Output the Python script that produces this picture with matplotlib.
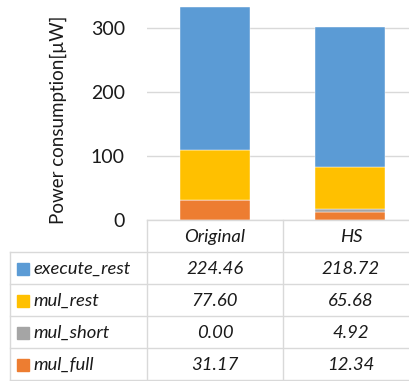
import matplotlib
matplotlib.use("Agg")
import matplotlib.pyplot as plt
from matplotlib.patches import Rectangle

plt.rcParams['font.family'] = ['Lato', 'DejaVu Sans']

categories = ["Original", "HS"]
series_names = ["execute_rest", "mul_rest", "mul_short", "mul_full"]
execute_rest = [224.46, 218.72]
mul_rest = [77.60, 65.68]
mul_short = [0.00, 4.92]
mul_full = [31.17, 12.34]
yticks = [0, 100, 200, 300]

colors = {"execute_rest": "#5B9BD5", "mul_rest": "#FFC000",
          "mul_short": "#A5A5A5", "mul_full": "#ED7D31"}
values = {"execute_rest": execute_rest, "mul_rest": mul_rest,
          "mul_short": mul_short, "mul_full": mul_full}

W, H = 409, 381
fig = plt.figure(figsize=(W / 100, H / 100), dpi=100)

# main plot axes
x0, ytop, ybase = 147, 0, 220
ax = fig.add_axes([x0 / W, (H - ybase) / H, 1 - x0 / W, (ybase - ytop) / H])
ax.set_xlim(-0.5, -0.5 + (W - x0) / 135.5)
ax.set_ylim(0, 220 / 0.64)
xs = list(range(len(categories)))
bottom = [0.0] * len(categories)
for name in ["mul_full", "mul_short", "mul_rest", "execute_rest"]:
    v = values[name]
    ax.bar(xs, v, width=0.515, bottom=bottom, color=colors[name],
           edgecolor="white", linewidth=0.3, zorder=3)
    bottom = [b + vv for b, vv in zip(bottom, v)]
ax.set_yticks(yticks)
ax.set_yticklabels([str(t) for t in yticks], fontsize=14, color="#1a1a1a")
ax.tick_params(axis="y", length=0, pad=16)
ax.set_xticks([])
ax.grid(axis="y", color="#D9D9D9", linewidth=1, zorder=0)
for s in ax.spines.values():
    s.set_visible(False)
ax.set_ylabel("Power consumption[\u00b5W]", fontsize=13.5, color="#1a1a1a")
ax.yaxis.set_label_coords(-80 / (W - x0), 100 / 220)

# table drawn in pixel coordinates
tax = fig.add_axes([0, 0, 1, 1])
tax.set_xlim(0, W)
tax.set_ylim(H, 0)
tax.axis("off")
lc = "#D9D9D9"
row_h = 32
col_edges = [10, 147, 283, 419]
hdr_top = 220
rows_top = 252
nrows = len(series_names)
tax.plot([147, W], [hdr_top, hdr_top], color=lc, lw=1)
for i in range(nrows + 1):
    y = rows_top + i * row_h
    tax.plot([10, W], [y, y], color=lc, lw=1)
tax.plot([10, 10], [rows_top, rows_top + nrows * row_h], color=lc, lw=1)
for xe in col_edges[1:3]:
    tax.plot([xe, xe], [hdr_top, rows_top + nrows * row_h], color=lc, lw=1)

tcolor = "#1a1a1a"
fs = 13.3
centers = [(col_edges[1] + col_edges[2]) / 2, (col_edges[2] + col_edges[3]) / 2]
for c, cat in zip(centers, categories):
    tax.text(c, (hdr_top + rows_top) / 2 + 1, cat, ha="center", va="center",
             fontsize=fs, style="italic", color=tcolor)
for i, name in enumerate(series_names):
    yc = rows_top + i * row_h + row_h / 2 + 1
    tax.add_patch(Rectangle((17, yc - 6), 12, 12, color=colors[name]))
    tax.text(33, yc, name, ha="left", va="center", fontsize=fs,
             style="italic", color=tcolor)
    for c, v in zip(centers, values[name]):
        tax.text(c, yc, f"{v:.2f}", ha="center", va="center", fontsize=fs,
                 style="italic", color=tcolor)

fig.savefig("out.png", dpi=100)
